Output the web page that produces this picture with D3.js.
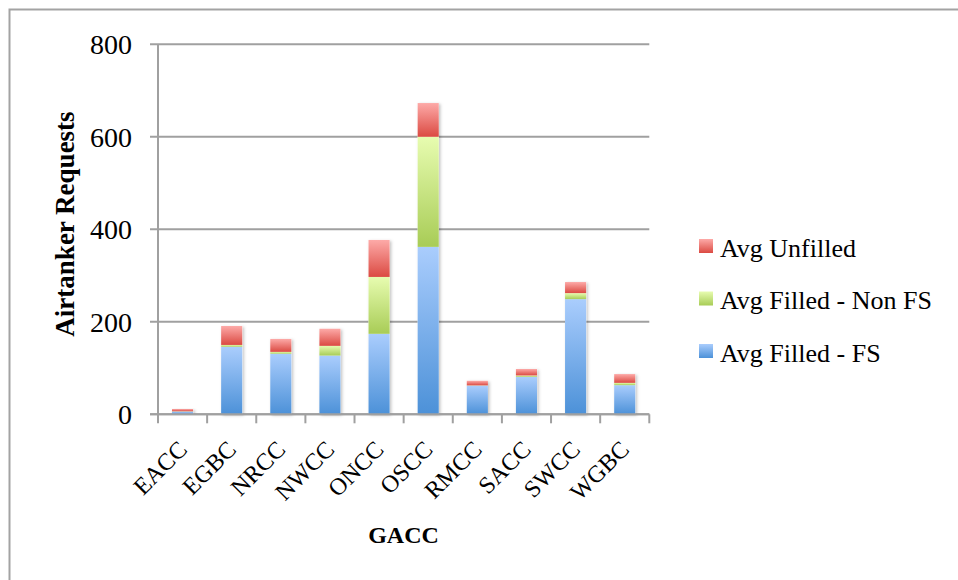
<!DOCTYPE html>
<html>
<head>
<meta charset="utf-8">
<script src="https://cdn.jsdelivr.net/npm/d3@7"></script>
<style>
  html, body { margin: 0; padding: 0; background: #fff; }
  svg { display: block; }
  text { font-family: "Liberation Serif", "Times New Roman", serif; fill: #000; }
</style>
</head>
<body>
<svg id="chart" width="958" height="580"></svg>
<script>
// Geographic Area Coordination Centers
const categories = ["EACC", "EGBC", "NRCC", "NWCC", "ONCC", "OSCC", "RMCC", "SACC", "SWCC", "WGBC"];

// Average airtanker requests per GACC, split by outcome
const filledFS    = [6, 146, 131, 127, 174, 362, 62, 81, 249, 63];
const filledNonFS = [0.5, 4, 4, 21, 123, 238, 0.5, 3, 13, 5];
const unfilled    = [5, 41, 28, 37, 80, 73, 10, 14, 24, 19];

const seriesNames = ["Avg Filled - FS", "Avg Filled - Non FS", "Avg Unfilled"];
const yTicks = [0, 200, 400, 600, 800];

const svg = d3.select("#chart");

// Outer chart frame
svg.append("rect")
  .attr("x", 9.5).attr("y", 9.5)
  .attr("width", 1000).attr("height", 600)
  .attr("fill", "none").attr("stroke", "#a3a3a3").attr("stroke-width", 2);

const plot = { left: 158, right: 649.3, top: 44.3, bottom: 414.3 };

const x = d3.scaleBand()
  .domain(categories)
  .range([plot.left, plot.right])
  .paddingInner(0.57)
  .paddingOuter(0.285);

const y = d3.scaleLinear().domain([0, 800]).range([plot.bottom, plot.top]);

// Gradients: light at the top of each segment, darker at the bottom
const defs = svg.append("defs");
const palette = [
  { id: "gBlue",  top: "#aacdfd", bottom: "#4c91d8" },
  { id: "gGreen", top: "#e7fcb0", bottom: "#a8cc56" },
  { id: "gRed",   top: "#fdaaa8", bottom: "#db4a42" }
];
palette.forEach(p => {
  const g = defs.append("linearGradient").attr("id", p.id)
    .attr("x1", 0).attr("y1", 0).attr("x2", 0).attr("y2", 1);
  g.append("stop").attr("offset", "0%").attr("stop-color", p.top);
  g.append("stop").attr("offset", "100%").attr("stop-color", p.bottom);
});
const shadow = defs.append("filter").attr("id", "barShadow")
  .attr("x", "-30%").attr("y", "-10%").attr("width", "160%").attr("height", "120%");
shadow.append("feDropShadow")
  .attr("dx", 1.5).attr("dy", 1).attr("stdDeviation", 1.8)
  .attr("flood-color", "#000").attr("flood-opacity", 0.25);

// Gridlines with short outer ticks on the left
svg.append("g").selectAll("line")
  .data(yTicks)
  .join("line")
  .attr("x1", plot.left - 8).attr("x2", plot.right)
  .attr("y1", d => y(d)).attr("y2", d => y(d))
  .attr("stroke", "#a0a0a0").attr("stroke-width", 2);

// Y tick labels
svg.append("g").selectAll("text")
  .data(yTicks)
  .join("text")
  .attr("x", 132)
  .attr("y", d => y(d) + 10)
  .attr("text-anchor", "end")
  .attr("font-size", 28)
  .text(d => d);

// Vertical axis line
svg.append("line")
  .attr("x1", plot.left).attr("x2", plot.left)
  .attr("y1", plot.top).attr("y2", plot.bottom)
  .attr("stroke", "#a0a0a0").attr("stroke-width", 2);

// Stacked bars
const rows = categories.map((c, i) => ({
  cat: c,
  "Avg Filled - FS": filledFS[i],
  "Avg Filled - Non FS": filledNonFS[i],
  "Avg Unfilled": unfilled[i]
}));
const stacked = d3.stack().keys(seriesNames)(rows);
const fills = ["url(#gBlue)", "url(#gGreen)", "url(#gRed)"];

const barGroup = svg.append("g");
// shadow layer drawn as whole-bar silhouettes behind the segments
barGroup.append("g").selectAll("rect")
  .data(rows)
  .join("rect")
  .attr("x", d => x(d.cat))
  .attr("width", x.bandwidth())
  .attr("y", (d, i) => y(stacked[2][i][1]))
  .attr("height", (d, i) => y(0) - y(stacked[2][i][1]))
  .attr("fill", "#fff")
  .attr("filter", "url(#barShadow)");

barGroup.selectAll("g.series")
  .data(stacked)
  .join("g")
  .attr("class", "series")
  .attr("fill", (d, i) => fills[i])
  .selectAll("rect")
  .data(d => d)
  .join("rect")
  .attr("x", d => x(d.data.cat))
  .attr("width", x.bandwidth())
  .attr("y", d => y(d[1]))
  .attr("height", d => Math.max(0, y(d[0]) - y(d[1])));

// Category axis with boundary ticks
const bounds = categories.map(c => x(c) - x.step() * x.paddingInner() / 2).concat([plot.right]);
svg.append("g").selectAll("line")
  .data(bounds)
  .join("line")
  .attr("x1", d => d).attr("x2", d => d)
  .attr("y1", plot.bottom).attr("y2", plot.bottom + 9)
  .attr("stroke", "#a0a0a0").attr("stroke-width", 2);
svg.append("line")
  .attr("x1", plot.left - 8).attr("x2", plot.right)
  .attr("y1", plot.bottom).attr("y2", plot.bottom)
  .attr("stroke", "#a0a0a0").attr("stroke-width", 2);

svg.append("g").selectAll("text")
  .data(categories)
  .join("text")
  .attr("transform", d => `translate(${x(d) + x.bandwidth() / 2},445) rotate(-45)`)
  .attr("text-anchor", "end")
  .attr("dy", "0.35em")
  .attr("font-size", 24)
  .text(d => d);

// Axis titles
svg.append("text")
  .attr("x", 403.5).attr("y", 543)
  .attr("text-anchor", "middle")
  .attr("font-size", 24).attr("font-weight", "bold")
  .text("GACC");

svg.append("text")
  .attr("transform", "translate(74,224) rotate(-90)")
  .attr("text-anchor", "middle")
  .attr("font-size", 27).attr("font-weight", "bold")
  .text("Airtanker Requests");

// Legend (top to bottom: unfilled, non-FS, FS)
const legendItems = [
  { name: "Avg Unfilled", fill: "url(#gRed)" },
  { name: "Avg Filled - Non FS", fill: "url(#gGreen)" },
  { name: "Avg Filled - FS", fill: "url(#gBlue)" }
];
const legend = svg.append("g").selectAll("g")
  .data(legendItems)
  .join("g")
  .attr("transform", (d, i) => `translate(699,${239 + i * 52.5})`);
legend.append("rect")
  .attr("width", 14).attr("height", 14)
  .attr("fill", d => d.fill);
legend.append("text")
  .attr("x", 21).attr("y", 17.5)
  .attr("font-size", 26)
  .text(d => d.name);
</script>
</body>
</html>
